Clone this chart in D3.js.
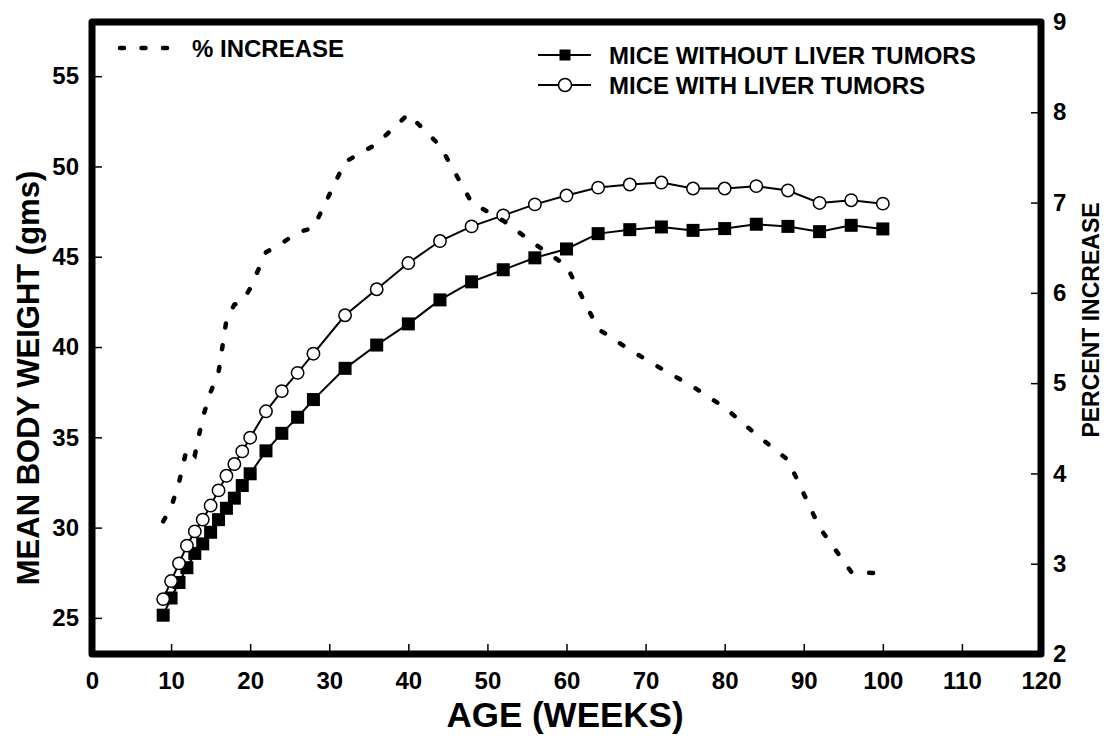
<!DOCTYPE html>
<html>
<head>
<meta charset="utf-8">
<script src="https://cdn.jsdelivr.net/npm/d3@7"></script>
<style>
  body { margin: 0; background: #fff; }
  text { font-family: "Liberation Sans", Arial, sans-serif; font-weight: bold; fill: #000; }
</style>
</head>
<body>
<script>
// mean body weight of mice vs age, plus % increase on the right axis

var weeks = [9, 10, 11, 12, 13, 14, 15, 16, 17, 18, 19, 20, 22, 24, 26, 28, 32, 36, 40, 44,
  48, 52, 56, 60, 64, 68, 72, 76, 80, 84, 88, 92, 96, 100];

var withoutTumors = [25.15, 26.1, 26.96, 27.78, 28.57, 29.1, 29.74, 30.44, 31.07, 31.63, 32.33, 32.98,
  34.25, 35.22, 36.11, 37.09, 38.82, 40.11, 41.28, 42.61, 43.61, 44.28, 44.94, 45.43,
  46.28, 46.5, 46.65, 46.46, 46.56, 46.8, 46.68, 46.39, 46.74, 46.54];

var withTumors = [26.04, 27.04, 28.02, 29.0, 29.79, 30.44, 31.22, 32.06, 32.87, 33.52, 34.22, 34.98,
  36.44, 37.56, 38.57, 39.63, 41.76, 43.2, 44.65, 45.87, 46.68, 47.29, 47.9, 48.39,
  48.83, 49.0, 49.11, 48.78, 48.78, 48.91, 48.67, 47.98, 48.13, 47.94];

var percentIncrease = [3.47, 3.62, 3.9, 4.28, 4.2, 4.62, 4.9, 5.12, 5.7, 5.87, 5.9, 6.05,
  6.45, 6.55, 6.67, 6.72, 7.45, 7.65, 7.98, 7.63, 7.0, 6.8, 6.54, 6.3,
  5.6, 5.37, 5.16, 4.96, 4.73, 4.43, 4.15, 3.40, 2.91, 2.89];

var xTicks = [0, 10, 20, 30, 40, 50, 60, 70, 80, 90, 100, 110, 120];
var leftTicks = [25, 30, 35, 40, 45, 50, 55];
var rightTicks = [2, 3, 4, 5, 6, 7, 8, 9];

var width = 1109;
var height = 742;
var margin = {left: 92, right: 68, top: 22, bottom: 88};

var svg = d3.select("body").append("svg")
  .attr("width", width)
  .attr("height", height);

var x = d3.scaleLinear().domain([0, 120]).range([margin.left, width - margin.right]);
var y = d3.scaleLinear().domain([23, 58]).range([height - margin.bottom, margin.top]);
var y2 = d3.scaleLinear().domain([2, 9]).range([height - margin.bottom, margin.top]);

var bottomY = height - margin.bottom;

// axes (ticks point inward)
var xAxis = svg.append("g")
  .attr("transform", "translate(0," + bottomY + ")")
  .call(d3.axisBottom(x).tickValues(xTicks).tickSize(-10).tickPadding(18).tickFormat(d3.format("d")));

var leftAxis = svg.append("g")
  .attr("transform", "translate(" + margin.left + ",0)")
  .call(d3.axisLeft(y).tickValues(leftTicks).tickSize(-10).tickPadding(13).tickFormat(d3.format("d")));

var rightAxis = svg.append("g")
  .attr("transform", "translate(" + (width - margin.right) + ",0)")
  .call(d3.axisRight(y2).tickValues(rightTicks).tickSize(-10).tickPadding(12).tickFormat(d3.format("d")));

[xAxis, leftAxis, rightAxis].forEach(function(g) {
  g.select(".domain").remove();
  g.selectAll(".tick line").attr("stroke", "#000").attr("stroke-width", 1.5);
  g.selectAll(".tick text").style("font-size", "24px").attr("font-family", null);
});
xAxis.selectAll(".tick line").filter(function(d) { return d == 0 || d == 120; }).remove();

// frame
svg.append("rect")
  .attr("x", x(0))
  .attr("y", margin.top)
  .attr("width", x(120) - x(0))
  .attr("height", bottomY - margin.top)
  .attr("fill", "none")
  .attr("stroke", "#000")
  .attr("stroke-width", 7)
  .attr("stroke-linejoin", "round");

// axis titles
svg.append("text")
  .attr("x", 565)
  .attr("y", 727)
  .attr("text-anchor", "middle")
  .style("font-size", "35px")
  .text("AGE (WEEKS)");

svg.append("text")
  .attr("transform", "translate(39,378) rotate(-90)")
  .attr("text-anchor", "middle")
  .style("font-size", "31px")
  .text("MEAN BODY WEIGHT (gms)");

svg.append("text")
  .attr("transform", "translate(1099,320) rotate(-90)")
  .attr("text-anchor", "middle")
  .style("font-size", "23px")
  .text("PERCENT INCREASE");

// series
var pts = weeks.map(function(w, i) {
  return {w: w, a: withoutTumors[i], b: withTumors[i], p: percentIncrease[i]};
});

var lineA = d3.line().x(function(d) { return x(d.w); }).y(function(d) { return y(d.a); });
var lineB = d3.line().x(function(d) { return x(d.w); }).y(function(d) { return y(d.b); });
var lineP = d3.line().x(function(d) { return x(d.w); }).y(function(d) { return y2(d.p); });

svg.append("path").datum(pts)
  .attr("d", lineA)
  .attr("fill", "none").attr("stroke", "#000").attr("stroke-width", 2);

svg.append("path").datum(pts)
  .attr("d", lineB)
  .attr("fill", "none").attr("stroke", "#000").attr("stroke-width", 2);

svg.selectAll(".sq")
  .data(pts)
  .enter().append("rect")
    .attr("class", "sq")
    .attr("x", function(d) { return x(d.w) - 6.5; })
    .attr("y", function(d) { return y(d.a) - 6.5; })
    .attr("width", 13)
    .attr("height", 13)
    .attr("fill", "#000");

svg.selectAll(".circ")
  .data(pts)
  .enter().append("circle")
    .attr("class", "circ")
    .attr("cx", function(d) { return x(d.w); })
    .attr("cy", function(d) { return y(d.b); })
    .attr("r", 6.2)
    .attr("fill", "#fff")
    .attr("stroke", "#000")
    .attr("stroke-width", 1.5);

svg.append("path").datum(pts)
  .attr("d", lineP)
  .attr("fill", "none")
  .attr("stroke", "#000")
  .attr("stroke-width", 4.5)
  .attr("stroke-linecap", "round")
  .attr("stroke-dasharray", "4,18");

// legend
svg.append("line")
  .attr("x1", 120).attr("x2", 170)
  .attr("y1", 48).attr("y2", 48)
  .attr("stroke", "#000")
  .attr("stroke-width", 4.5)
  .attr("stroke-linecap", "round")
  .attr("stroke-dasharray", "4,17.5");

svg.append("text")
  .attr("x", 192).attr("y", 57)
  .style("font-size", "24px")
  .text("% INCREASE");

var legendRows = [
  {label: "MICE WITHOUT LIVER TUMORS", marker: "square", y: 55},
  {label: "MICE WITH LIVER TUMORS", marker: "circle", y: 85}
];

legendRows.forEach(function(r) {
  svg.append("line")
    .attr("x1", 538).attr("x2", 591)
    .attr("y1", r.y).attr("y2", r.y)
    .attr("stroke", "#000").attr("stroke-width", 2);
  if (r.marker == "square") {
    svg.append("rect")
      .attr("x", 565 - 5.5).attr("y", r.y - 5.5)
      .attr("width", 11).attr("height", 11)
      .attr("fill", "#000");
  } else {
    svg.append("circle")
      .attr("cx", 565).attr("cy", r.y).attr("r", 6.5)
      .attr("fill", "#fff").attr("stroke", "#000").attr("stroke-width", 1.5);
  }
  svg.append("text")
    .attr("x", 609).attr("y", r.y + 8.5)
    .style("font-size", "24px")
    .text(r.label);
});
</script>
</body>
</html>
